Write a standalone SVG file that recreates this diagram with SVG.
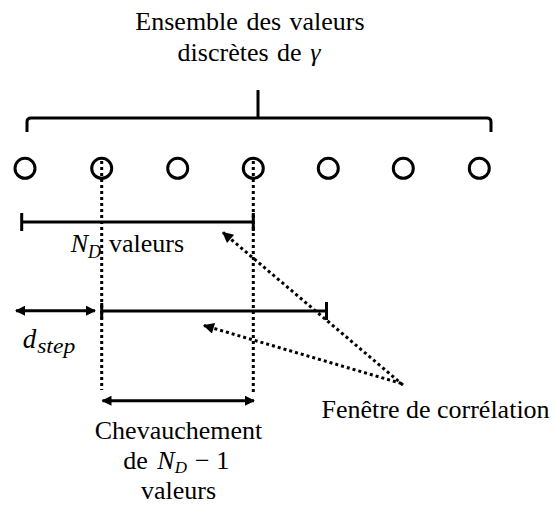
<svg xmlns="http://www.w3.org/2000/svg" width="554" height="505" viewBox="0 0 554 505" font-family="Liberation Serif, Times New Roman, serif">
<defs>
<marker id="ah" viewBox="0 0 10 10" refX="9" refY="5" markerWidth="11" markerHeight="10" markerUnits="userSpaceOnUse" orient="auto-start-reverse">
<path d="M0,0 L10,5 L0,10 z" fill="#000"/>
</marker>
<marker id="ahd" viewBox="0 0 10 10" refX="9" refY="5" markerWidth="13" markerHeight="11" markerUnits="userSpaceOnUse" orient="auto">
<path d="M0,0 L10,5 L0,10 z" fill="#000"/>
</marker>
</defs>
<rect width="554" height="505" fill="#fff"/>

<g id="title">
<text x="250" y="30" text-anchor="middle" font-family="Times New Roman" font-size="26" word-spacing="2">Ensemble des valeurs</text>
<text x="249" y="61" text-anchor="middle" font-family="Times New Roman" font-size="26" word-spacing="2">discrètes de <tspan font-style="italic">γ</tspan></text>
</g>

<g id="brace" stroke="#000" stroke-width="3" fill="none">
<path d="M27,132 V122 Q27,118 31,118 H487 Q491,118 491,122 V132 M258,118 V90"/>
</g>

<g id="connectors" stroke="#000" stroke-width="3" fill="none">
<g stroke-dasharray="3 3">
<line x1="101.7" y1="161" x2="101.7" y2="390"/>
<line x1="253.3" y1="161" x2="253.3" y2="394"/>
<line x1="403" y1="385" x2="223" y2="232.5" marker-end="url(#ahd)"/>
<line x1="401.5" y1="383.5" x2="204" y2="325.5" marker-end="url(#ahd)"/>
</g>
<line x1="16" y1="310.7" x2="95" y2="310.7" marker-start="url(#ah)" marker-end="url(#ah)"/>
<line x1="102.5" y1="400.7" x2="254" y2="400.7" marker-start="url(#ah)" marker-end="url(#ah)"/>
</g>

<g id="values" stroke="#000" stroke-width="3" fill="#fff">
<circle cx="25" cy="168.3" r="10"/>
<circle cx="101.7" cy="168.3" r="10" fill="none"/>
<circle cx="177.7" cy="168.3" r="10"/>
<circle cx="253.3" cy="168.3" r="10" fill="none"/>
<circle cx="328.3" cy="168.3" r="10"/>
<circle cx="403.3" cy="168.3" r="10"/>
<circle cx="479.3" cy="168.3" r="10"/>
</g>

<g id="window1">
<path d="M21.7,222 H253.3 M21.7,213 V231 M253.3,213 V231" stroke="#000" stroke-width="3" fill="none"/>
<text x="70.7" y="251.7" font-family="Times New Roman" font-size="26"><tspan font-style="italic">N</tspan><tspan font-style="italic" font-size="18" dy="6">D</tspan><tspan dy="-6" dx="8">valeurs</tspan></text>
</g>

<g id="window2">
<path d="M101.7,311 H326.5 M101.7,303 V319 M326.5,302 V320" stroke="#000" stroke-width="3" fill="none"/>
</g>

<g id="dstep">
<text x="22.7" y="348" font-family="Times New Roman" font-size="27"><tspan font-style="italic">d</tspan><tspan font-style="italic" font-size="20" dy="5" dx="1" textLength="38" lengthAdjust="spacingAndGlyphs">step</tspan></text>
</g>

<g id="overlap">
<text x="178.5" y="439" text-anchor="middle" font-family="Times New Roman" font-size="26">Chevauchement</text>
<text x="123.3" y="469" font-family="Times New Roman" font-size="26">de <tspan font-style="italic" dx="3">N</tspan><tspan font-style="italic" font-size="17" dy="3.5">D</tspan><tspan dy="-3.5" dx="8">− 1</tspan></text>
<text x="178.5" y="499" text-anchor="middle" font-family="Times New Roman" font-size="26">valeurs</text>
</g>

<g id="correlation">
<text x="321.5" y="417.7" font-family="Times New Roman" font-size="26">Fenêtre de corrélation</text>
</g>
</svg>
